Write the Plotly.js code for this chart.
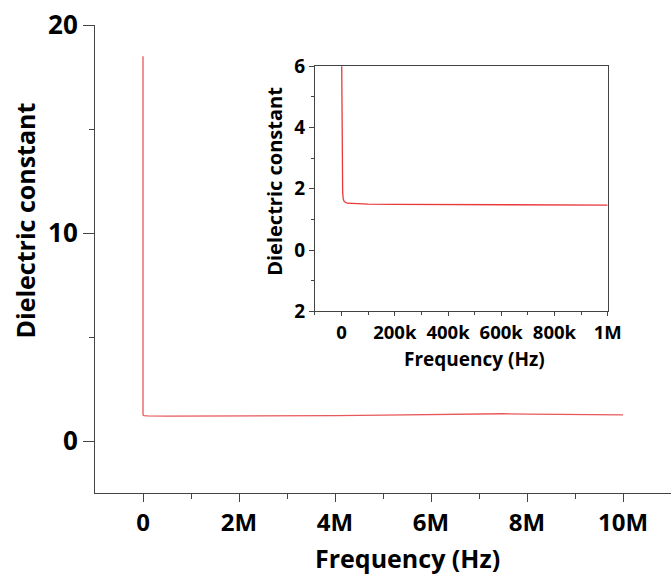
<!DOCTYPE html>
<html>
<head>
<meta charset="utf-8">
<script src="https://cdn.plot.ly/plotly-3.0.1.min.js"></script>
<style>html,body{margin:0;padding:0;background:#fff;}#plot{width:671px;height:575px;}</style>
</head>
<body>
<div id="plot"></div>
<script>
// Main chart data (Frequency in Hz, dielectric constant)
var mainFreq = [0, 0, 20e3, 100e3, 500e3, 1e6, 2e6, 3e6, 4e6, 5e6, 6e6, 7e6, 7.5e6, 8e6, 9e6, 10e6];
var mainEps  = [18.5, 1.25, 1.22, 1.21, 1.2, 1.2, 1.2, 1.21, 1.22, 1.24, 1.28, 1.31, 1.31, 1.29, 1.27, 1.26];

// Inset data
var insetFreq = [0, 1e3, 2e3, 4e3, 6e3, 10e3, 20e3, 50e3, 100e3, 200e3, 400e3, 600e3, 800e3, 1e6];
var insetEps  = [6.6, 4.5, 2.8, 1.9, 1.68, 1.58, 1.53, 1.51, 1.5, 1.49, 1.48, 1.48, 1.48, 1.47];

// Tick labels
var mainXVals = [0, 2e6, 4e6, 6e6, 8e6, 10e6];
var mainXText = ['0', '2M', '4M', '6M', '8M', '10M'];
var mainYVals = [0, 10, 20];
var mainYText = ['0', '10', '20'];
var insetXVals = [0, 200e3, 400e3, 600e3, 800e3, 1e6];
var insetXText = ['0', '200k', '400k', '600k', '800k', '1M'];
var insetYVals = [-2, 0, 2, 4, 6];
var insetYText = ['2', '0', '2', '4', '6'];

// Axis titles
var mainXTitle = 'Frequency (Hz)';
var mainYTitle = 'Dielectric constant';
var insetXTitle = 'Frequency (Hz)';
var insetYTitle = 'Dielectric constant';

var FONT = 'Open Sans, Lato, sans-serif';
var AX = '#444';

var traces = [
  {x: mainFreq, y: mainEps, type: 'scatter', mode: 'lines', xaxis: 'x', yaxis: 'y',
   line: {color: '#e8585a', width: 1.3}, hoverinfo: 'skip'},
  {x: insetFreq, y: insetEps, type: 'scatter', mode: 'lines', xaxis: 'x2', yaxis: 'y2',
   line: {color: '#e8383a', width: 1.3}, hoverinfo: 'skip'}
];

function titleAnn(text, x, y, size, angle) {
  return {text: '<b>' + text + '</b>', xref: 'paper', yref: 'paper', x: x, y: y,
    xanchor: 'center', yanchor: 'middle', showarrow: false, textangle: angle,
    font: {family: FONT, size: size, color: '#000'}};
}

var layout = {
  width: 671, height: 575,
  margin: {l: 95, r: 0, t: 25, b: 82, pad: 0},
  paper_bgcolor: '#fff', plot_bgcolor: '#fff',
  showlegend: false,
  font: {family: FONT, color: '#000'},
  xaxis: {
    domain: [0, 1], range: [-1e6, 11e6],
    tickmode: 'array', tickvals: mainXVals, ticktext: mainXText,
    ticks: 'outside', ticklen: 8, tickwidth: 1, tickcolor: AX,
    minor: {tickmode: 'array', tickvals: [1e6, 3e6, 5e6, 7e6, 9e6, 11e6], ticklen: 5, tickcolor: AX, ticks: 'outside'},
    showline: true, linecolor: AX, linewidth: 1,
    showgrid: false, zeroline: false,
    tickfont: {family: FONT, size: 24, color: '#000', weight: 'bold'}
  },
  yaxis: {
    domain: [0, 1], range: [-2.5, 20],
    tickmode: 'array', tickvals: mainYVals, ticktext: mainYText,
    ticks: 'outside', ticklen: 11, tickwidth: 1, tickcolor: AX,
    minor: {tickmode: 'array', tickvals: [5, 15], ticklen: 5, tickcolor: AX, ticks: 'outside'},
    showline: true, linecolor: AX, linewidth: 1,
    showgrid: false, zeroline: false,
    tickfont: {family: FONT, size: 26, color: '#000', weight: 'bold'}
  },
  xaxis2: {
    domain: [0.3819, 0.890], anchor: 'y2', range: [-100e3, 1e6],
    tickmode: 'array', tickvals: insetXVals, ticktext: insetXText,
    ticks: 'outside', ticklen: 4, tickwidth: 1, tickcolor: AX,
    minor: {tickmode: 'array', tickvals: [-100e3, 100e3, 300e3, 500e3, 700e3, 900e3], ticklen: 3, tickcolor: AX, ticks: 'outside'},
    showline: true, mirror: true, linecolor: AX, linewidth: 1,
    showgrid: false, zeroline: false,
    tickfont: {family: FONT, size: 18.5, color: '#000', weight: 'bold'}
  },
  yaxis2: {
    domain: [0.388, 0.912], anchor: 'x2', range: [-2, 6],
    tickmode: 'array', tickvals: insetYVals, ticktext: insetYText,
    ticks: 'outside', ticklen: 5, tickwidth: 1, tickcolor: AX,
    minor: {tickmode: 'array', tickvals: [-1, 1, 3, 5], ticklen: 3, tickcolor: AX, ticks: 'outside'},
    showline: true, mirror: true, linecolor: AX, linewidth: 1,
    showgrid: false, zeroline: false,
    tickfont: {family: FONT, size: 19, color: '#000', weight: 'bold'}
  },
  annotations: [
    titleAnn(mainXTitle, 0.5425, -0.139, 25, 0),
    titleAnn(mainYTitle, -0.1215, 0.5824, 25, -90),
    titleAnn(insetXTitle, 0.6597, 0.287, 19, 0),
    titleAnn(insetYTitle, 0.3116, 0.666, 20, -90)
  ]
};

Plotly.newPlot('plot', traces, layout, {staticPlot: true, displayModeBar: false});
</script>
</body>
</html>
